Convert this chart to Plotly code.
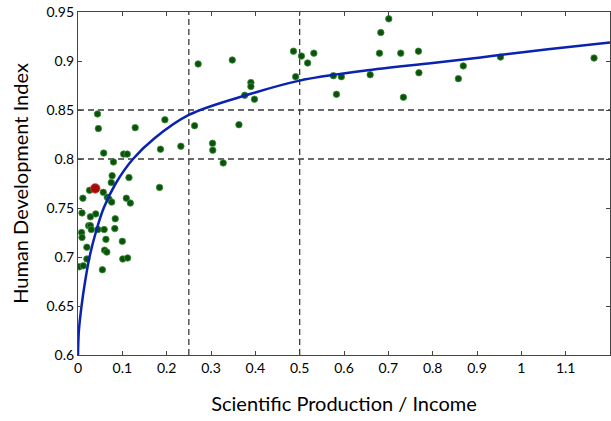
import plotly.graph_objects as go

# Scatter data (Scientific Production / Income, HDI)
sp_income = [
    0.058, 0.103, 0.111, 0.080, 0.186, 0.232, 0.077, 0.075, 0.115, 0.026,
    0.057, 0.184, 0.011, 0.066, 0.070, 0.076, 0.109, 0.118, 0.009, 0.040,
    0.028, 0.084, 0.024, 0.028, 0.030, 0.045, 0.059, 0.083, 0.008, 0.009,
    0.063, 0.100, 0.020, 0.060, 0.065, 0.020, 0.101, 0.112, 0.003, 0.012,
    0.055, 0.044, 0.046, 0.129, 0.196,
    0.271, 0.348, 0.486, 0.504, 0.518, 0.532, 0.491, 0.390, 0.390, 0.376,
    0.398, 0.576, 0.583, 0.263, 0.363, 0.3035, 0.304, 0.3275, 0.594,
    0.659, 0.680, 0.683, 0.701, 0.728, 0.734, 0.768, 0.769, 0.858, 0.869,
    0.953, 1.164,
]
hdi = [
    0.806, 0.805, 0.805, 0.797, 0.810, 0.813, 0.783, 0.776, 0.781, 0.768,
    0.766, 0.771, 0.760, 0.761, 0.759, 0.756, 0.760, 0.755, 0.745, 0.744,
    0.741, 0.739, 0.732, 0.732, 0.728, 0.728, 0.728, 0.729, 0.725, 0.720,
    0.718, 0.716, 0.710, 0.707, 0.705, 0.698, 0.698, 0.699, 0.690, 0.691,
    0.687, 0.846, 0.831, 0.832, 0.840,
    0.897, 0.901, 0.910, 0.905, 0.898, 0.908, 0.884, 0.878, 0.874, 0.865,
    0.861, 0.885, 0.866, 0.834, 0.835, 0.816, 0.809, 0.796, 0.884,
    0.886, 0.908, 0.929, 0.943, 0.908, 0.863, 0.910, 0.888, 0.882, 0.895,
    0.904, 0.903,
]

# Highlighted point
highlight_x = [0.039]
highlight_y = [0.770]

# Fitted curve
curve_x = [0.0, 0.002, 0.008, 0.016, 0.026, 0.040, 0.058, 0.085, 0.124, 0.172,
           0.25, 0.386, 0.5, 0.645, 0.80, 0.933, 1.06, 1.2]
curve_y = [0.600, 0.625, 0.650, 0.675, 0.700, 0.725, 0.750, 0.775, 0.800, 0.821,
           0.845, 0.866, 0.880, 0.890, 0.898, 0.905, 0.912, 0.919]

# Reference thresholds
vlines = [0.25, 0.5]
hlines = [0.80, 0.85]

x_ticks = [0, 0.1, 0.2, 0.3, 0.4, 0.5, 0.6, 0.7, 0.8, 0.9, 1.0, 1.1]
x_ticklabels = ["0", "0.1", "0.2", "0.3", "0.4", "0.5", "0.6", "0.7", "0.8", "0.9", "1", "1.1"]
y_ticks = [0.6, 0.65, 0.7, 0.75, 0.8, 0.85, 0.9, 0.95]
y_ticklabels = ["0.6", "0.65", "0.7", "0.75", "0.8", "0.85", "0.9", "0.95"]

FONT = "Lato, 'Open Sans', sans-serif"

fig = go.Figure()

for v in vlines:
    fig.add_shape(type="line", x0=v, x1=v, y0=0, y1=1, xref="x", yref="paper",
                  line=dict(color="#3a3a3a", width=1.3, dash="6px,4px"), layer="below")
for h in hlines:
    fig.add_shape(type="line", x0=0, x1=1, y0=h, y1=h, xref="paper", yref="y",
                  line=dict(color="#3a3a3a", width=1.3, dash="6px,4px"), layer="below")

fig.add_trace(go.Scatter(
    x=sp_income, y=hdi, mode="markers",
    marker=dict(size=6.5, color="#0b520b", line=dict(width=0.8, color="#3f8f3f")),
    showlegend=False, hoverinfo="skip",
))
fig.add_trace(go.Scatter(
    x=curve_x, y=curve_y, mode="lines", line_shape="spline",
    line=dict(color="#0a22b0", width=2.5),
    showlegend=False, hoverinfo="skip",
))
fig.add_trace(go.Scatter(
    x=highlight_x, y=highlight_y, mode="markers",
    marker=dict(size=9.5, color="#a50d0d", line=dict(width=0.8, color="#d04040")),
    showlegend=False, hoverinfo="skip",
))

axis_common = dict(
    showline=True, linecolor="#444444", linewidth=1.2, mirror="ticks",
    ticks="inside", ticklen=4, tickwidth=1, tickcolor="#444444",
    showgrid=False, zeroline=False, automargin=False,
    tickfont=dict(family=FONT, size=14, color="black"),
)

fig.update_layout(
    width=611, height=421,
    margin=dict(l=78, r=1, t=12, b=66),
    paper_bgcolor="white", plot_bgcolor="white",
    xaxis=dict(range=[0, 1.2], tickvals=x_ticks, ticktext=x_ticklabels,
               title=dict(text="Scientific Production / Income", standoff=22,
                          font=dict(family=FONT, size=20, color="black")),
               **axis_common),
    yaxis=dict(range=[0.6, 0.95], tickvals=y_ticks, ticktext=y_ticklabels,
               title=dict(text="Human Development Index", standoff=12,
                          font=dict(family=FONT, size=20, color="black")),
               **axis_common),
)

fig.write_html(
    "out.html",
    config={"displayModeBar": False},
    post_script="document.body.style.margin='0';document.body.style.overflow='hidden';",
)
